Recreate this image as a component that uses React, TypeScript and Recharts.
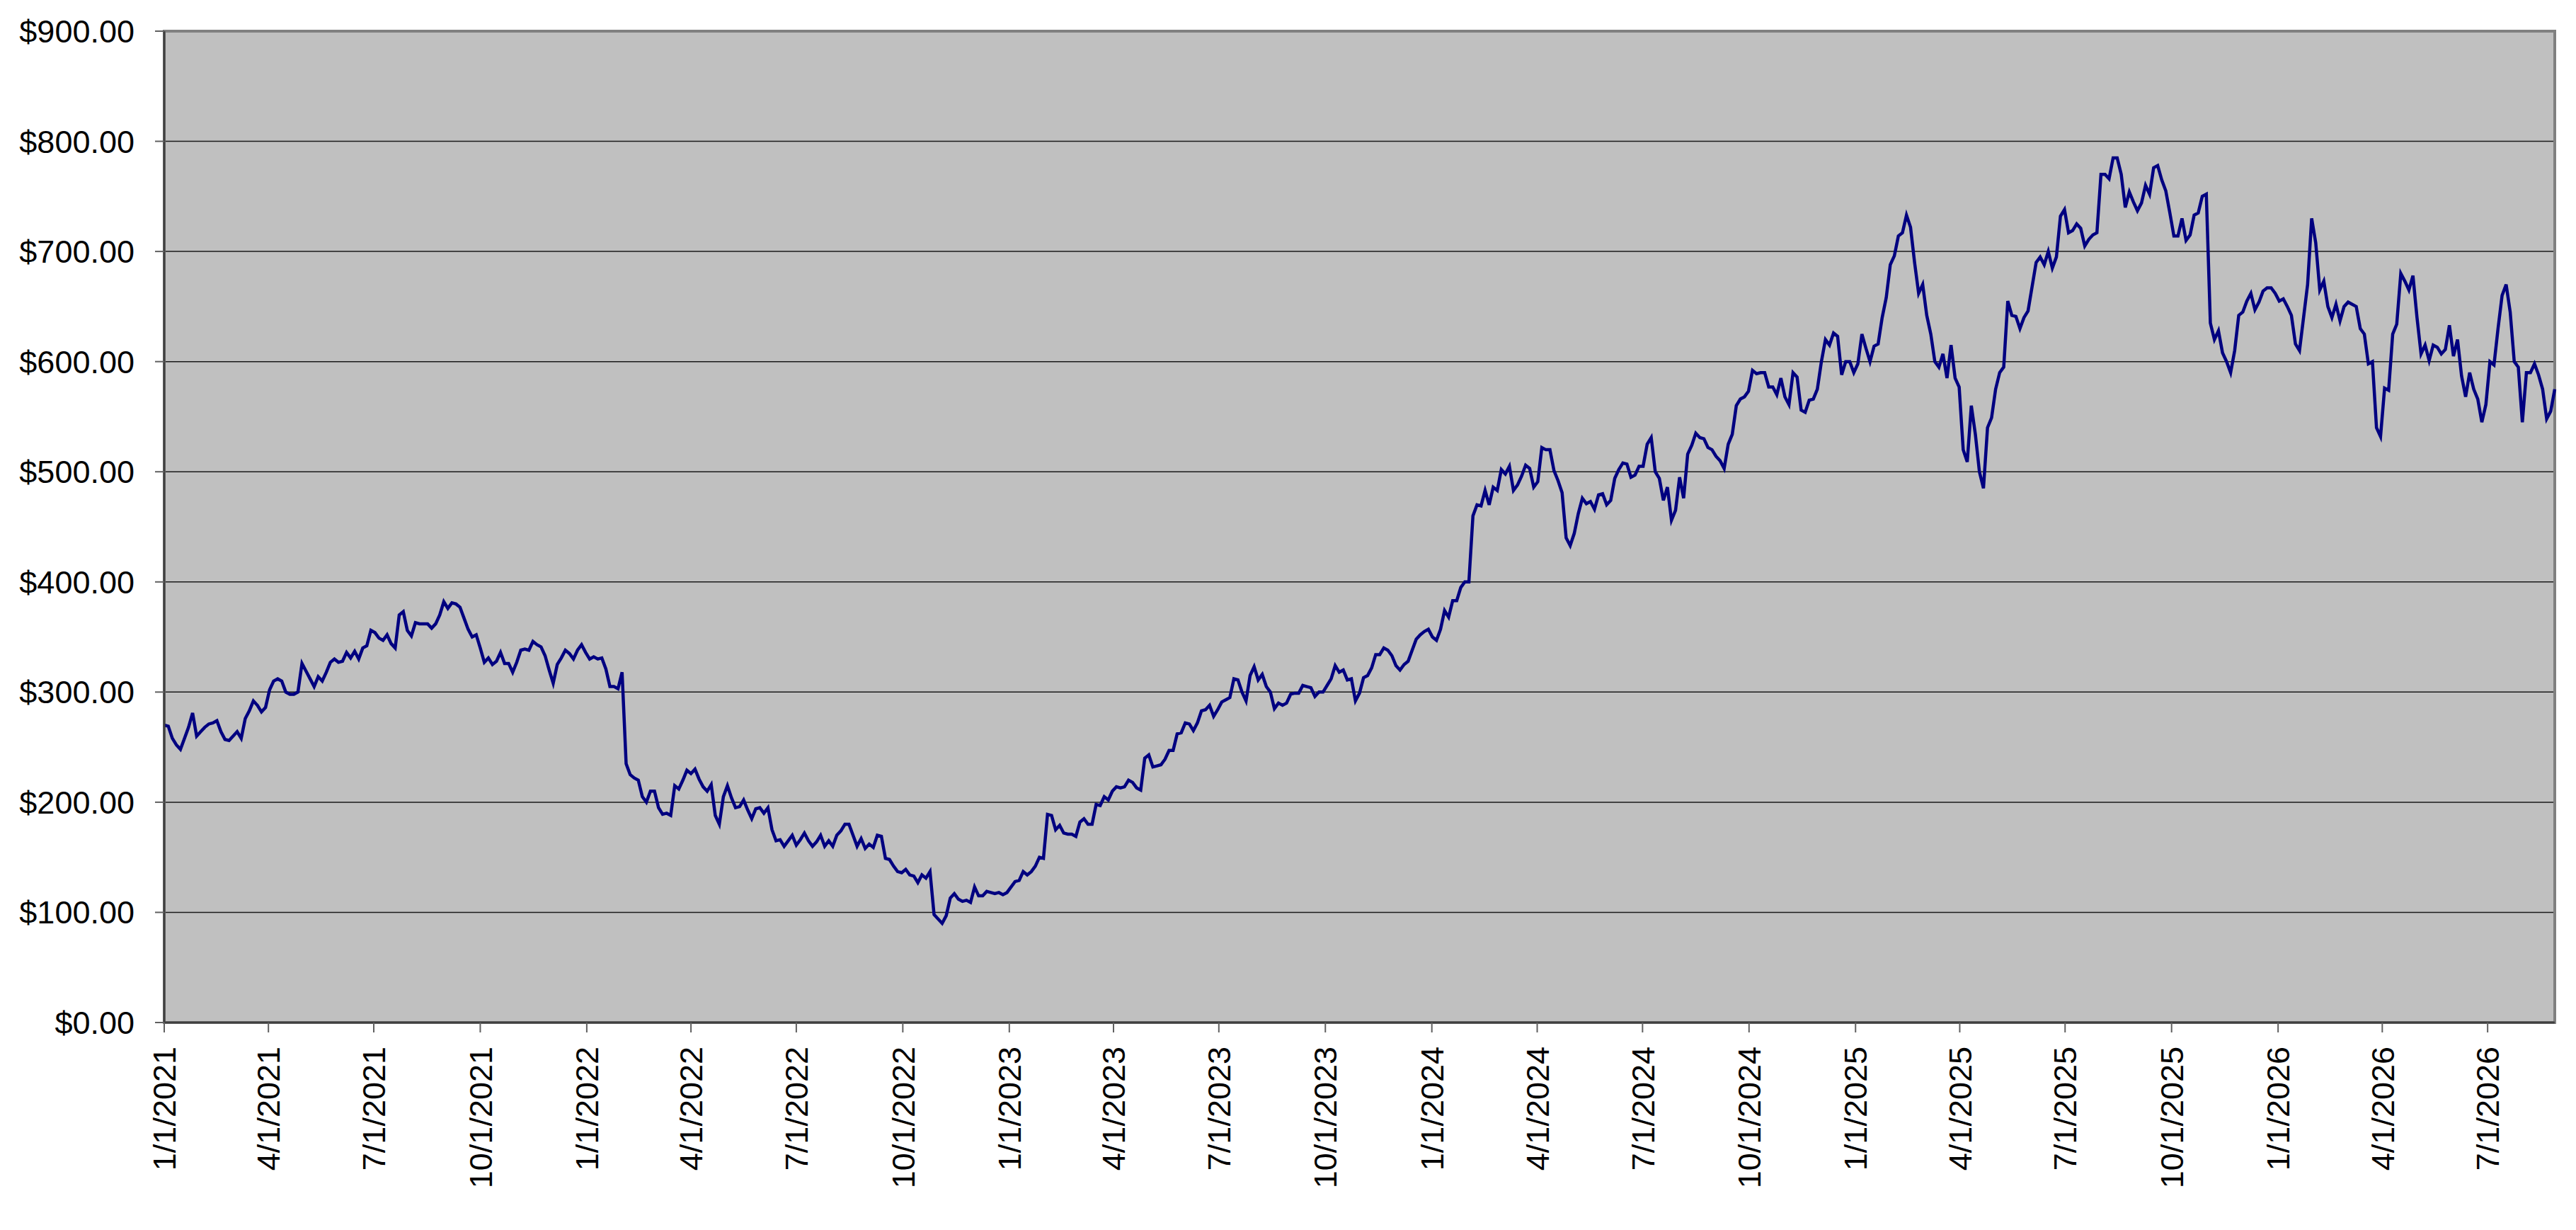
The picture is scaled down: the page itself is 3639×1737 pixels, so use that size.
import React from 'react';
import { LineChart, Line, XAxis, YAxis, CartesianGrid, ReferenceArea } from 'recharts';

// closing values sampled every 7 days from 1/1/2021
const weeklyPrices: number[] = [
  270, 258, 248, 268, 260, 268, 272, 264, 256, 264, 276, 292, 282, 302, 312, 300, 298, 326, 312, 314,
  318, 330, 328, 331, 330, 342, 354, 347, 344, 370, 356, 363, 362, 358, 370, 376, 380, 367, 350, 340,
  331, 328, 326, 318, 338, 338, 343, 333, 308, 331, 335, 338, 336, 332, 331, 305, 303, 235, 222, 205,
  210, 195, 190, 215, 220, 226, 221, 210, 188, 205, 204, 196, 193, 194, 190, 175, 166, 165, 161, 172,
  160, 170, 165, 170, 180, 170, 167, 162, 170, 149, 142, 136, 134, 127, 131, 98, 90, 113, 112, 111,
  123, 115, 118, 118, 118, 128, 137, 137, 150, 189, 175, 172, 171, 182, 180, 198, 205, 210, 213, 220,
  213, 240, 232, 234, 247, 262, 272, 265, 283, 288, 284, 293, 312, 300, 315, 311, 305, 285, 288, 298,
  299, 305, 296, 300, 312, 318, 311, 292, 313, 322, 334, 338, 324, 325, 338, 352, 357, 347, 374, 383,
  395, 400, 470, 483, 486, 502, 505, 488, 506, 486, 522, 520, 492, 440, 444, 476, 473, 479, 470, 494,
  508, 495, 505, 525, 500, 474, 456, 495, 516, 535, 530, 520, 510, 525, 560, 568, 592, 590, 577, 570,
  568, 590, 556, 565, 575, 620, 626, 588, 600, 598, 612, 614, 640, 688, 714, 733, 690, 670, 625, 595,
  585, 585, 520, 560, 500, 540, 575, 595, 642, 630, 646, 690, 688, 685, 732, 717, 725, 705, 715, 770,
  766, 785, 740, 745, 744, 752, 778, 755, 714, 730, 715, 735, 752, 620, 608, 590, 642, 655, 647, 664,
  667, 655, 650, 616, 640, 730, 665, 650, 652, 650, 652, 630, 598, 540, 576, 625, 680, 665, 640, 615,
  615, 607, 633, 620, 568, 575, 545, 600, 630, 670, 600, 545, 590, 588, 548, 575,
];

// closing values half a week after each weekly sample
const midweekPrices: number[] = [
  269, 252, 258, 281, 264, 271, 274, 257, 260, 258, 283, 288, 286, 310, 310, 298, 300, 319, 305, 310,
  327, 327, 336, 337, 340, 356, 349, 352, 340, 373, 351, 362, 362, 362, 382, 381, 377, 357, 352, 327,
  325, 336, 326, 327, 339, 346, 341, 320, 325, 338, 330, 343, 330, 330, 321, 305, 318, 225, 220, 200,
  210, 189, 188, 212, 229, 230, 214, 216, 180, 215, 195, 202, 185, 195, 195, 165, 160, 170, 166, 165,
  164, 160, 160, 174, 180, 160, 158, 159, 169, 148, 137, 139, 133, 134, 137, 94, 97, 117, 110, 109,
  115, 119, 117, 116, 123, 129, 134, 142, 149, 188, 179, 171, 169, 185, 180, 197, 202, 214, 214, 218,
  211, 243, 233, 239, 247, 263, 271, 272, 284, 278, 291, 295, 311, 292, 323, 316, 300, 290, 290, 299,
  306, 304, 300, 306, 324, 320, 312, 299, 315, 334, 340, 333, 320, 328, 348, 355, 350, 357, 368, 383,
  400, 460, 469, 470, 483, 498, 483, 496, 503, 491, 520, 501, 481, 433, 462, 471, 466, 480, 474, 502,
  507, 497, 505, 531, 494, 486, 465, 476, 524, 531, 522, 514, 503, 534, 566, 573, 589, 590, 577, 585,
  561, 586, 554, 566, 600, 615, 623, 600, 590, 625, 600, 616, 658, 696, 717, 722, 662, 642, 600, 607,
  615, 577, 509, 534, 485, 549, 590, 655, 641, 640, 668, 695, 700, 695, 738, 719, 721, 711, 717, 770,
  785, 770, 754, 737, 760, 776, 765, 735, 714, 710, 733, 750, 635, 628, 600, 610, 645, 662, 654, 667,
  662, 657, 642, 610, 670, 708, 673, 640, 637, 654, 650, 625, 600, 532, 574, 634, 673, 678, 607, 601,
  613, 611, 605, 587, 590, 566, 561, 597, 660, 645, 595, 590, 598, 575, 555,
];

const dateLabels: string[] = [
  '1/1/2021', '4/1/2021', '7/1/2021', '10/1/2021',
  '1/1/2022', '4/1/2022', '7/1/2022', '10/1/2022',
  '1/1/2023', '4/1/2023', '7/1/2023', '10/1/2023',
  '1/1/2024', '4/1/2024', '7/1/2024', '10/1/2024',
  '1/1/2025', '4/1/2025', '7/1/2025', '10/1/2025',
  '1/1/2026', '4/1/2026', '7/1/2026',
];

const priceTicks: number[] = [0, 100, 200, 300, 400, 500, 600, 700, 800, 900];

const START = Date.UTC(2021, 0, 1);
const DAY_MS = 86400000;
const FONT = '"Liberation Sans", Arial, sans-serif';

const toDay = (label: string) => {
  const [m, d, y] = label.split('/').map(Number);
  return Math.round((Date.UTC(y, m - 1, d) - START) / DAY_MS);
};

const data: { day: number; price: number }[] = [];
weeklyPrices.forEach((price, i) => {
  data.push({ day: i * 7, price });
  if (i < midweekPrices.length) data.push({ day: i * 7 + 3.5, price: midweekPrices[i] });
});
const lastDay = (weeklyPrices.length - 1) * 7;
const dateTicks = dateLabels.map(toDay);
const labelByDay = new Map(dateTicks.map((d, i) => [d, dateLabels[i]]));

const DateTick = (props: any) => {
  const { x, y, payload } = props;
  return (
    <g transform={`translate(${x},${y})`}>
      <text
        transform="rotate(-90)"
        textAnchor="end"
        dy="0.36em"
        fontSize={45}
        fontFamily={FONT}
        fill="#000"
      >
        {labelByDay.get(payload.value)}
      </text>
    </g>
  );
};

export default function App() {
  return (
    <div style={{ position: 'absolute', left: 0, top: 0, width: 3639, height: 1737, background: '#fff' }}>
      <LineChart
        width={3639}
        height={1737}
        data={data}
        margin={{ top: 44, right: 30, bottom: 0, left: 0 }}
      >
        <CartesianGrid
          vertical={false}
          horizontalValues={priceTicks}
          stroke="#1a1a1a"
          strokeWidth={1.5}
          fill="#C0C0C0"
          fillOpacity={1}
        />
        <ReferenceArea
          x1={0}
          x2={lastDay}
          y1={0}
          y2={900}
          fill="none"
          stroke="#808080"
          strokeWidth={4}
        />
        <XAxis
          dataKey="day"
          type="number"
          domain={[0, lastDay]}
          ticks={dateTicks}
          interval={0}
          tick={<DateTick />}
          tickSize={14}
          tickMargin={20}
          height={293}
          stroke="#404040"
          strokeWidth={3}
          tickLine={{ stroke: '#606060', strokeWidth: 2 }}
        />
        <YAxis
          type="number"
          domain={[0, 900]}
          ticks={priceTicks}
          interval={0}
          width={232}
          tickSize={13}
          tickMargin={29}
          tickFormatter={(v: number) => `$${v.toFixed(2)}`}
          tick={{ fontSize: 45, fill: '#000', fontFamily: FONT }}
          stroke="#404040"
          strokeWidth={3}
          tickLine={{ stroke: '#606060', strokeWidth: 2 }}
        />
        <Line
          type="linear"
          dataKey="price"
          stroke="#000080"
          strokeWidth={4.5}
          dot={false}
          activeDot={false}
          isAnimationActive={false}
        />
      </LineChart>
    </div>
  );
}
